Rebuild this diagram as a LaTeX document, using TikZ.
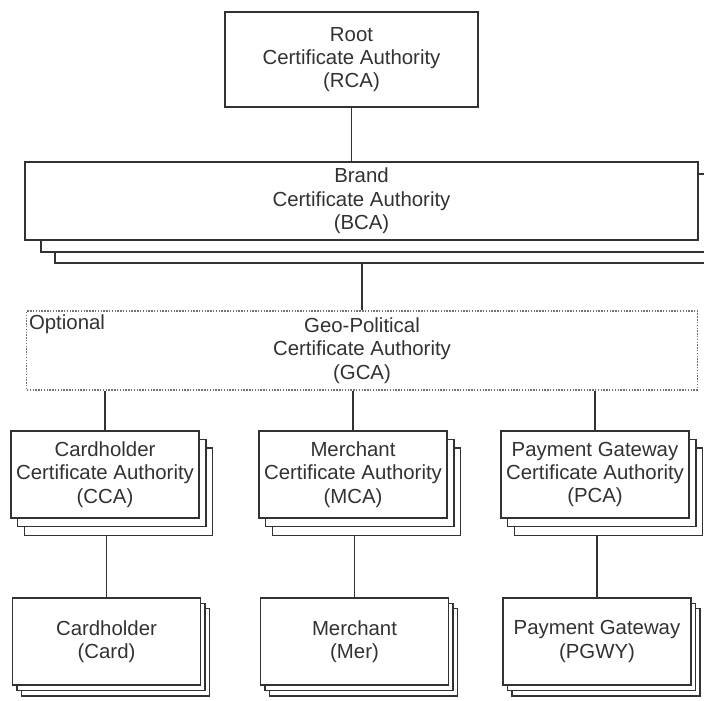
\documentclass[tikz,border=0pt]{standalone}
\usepackage{fontspec}
\setmainfont{Liberation Sans}
\usetikzlibrary{shadows, backgrounds}

\definecolor{inkgray}{RGB}{50,50,50}
\definecolor{dotgray}{RGB}{115,115,115}

\begin{document}
\begin{tikzpicture}[x=0.025cm, y=-0.025cm,
    font=\fontsize{14.5}{16.6}\selectfont,
    every node/.style={text=inkgray},
    cabox/.style={draw=inkgray, fill=white, line width=1pt, inner sep=0pt, align=center,
        minimum width=4.7cm, minimum height=2.175cm},
    smallstack/.style={
        copy shadow={shadow xshift=0.34cm, shadow yshift=-0.43cm, draw=inkgray, fill=white, line width=1pt},
        copy shadow={shadow xshift=0.17cm, shadow yshift=-0.215cm, draw=inkgray, fill=white, line width=1pt}},
    flatstack/.style={
        copy shadow={shadow xshift=0.225cm, shadow yshift=-0.27cm, draw=inkgray, fill=white, line width=1pt},
        copy shadow={shadow xshift=0.1125cm, shadow yshift=-0.135cm, draw=inkgray, fill=white, line width=1pt}},
    widestack/.style={
        copy shadow={shadow xshift=0.75cm, shadow yshift=-0.575cm, draw=inkgray, fill=white, line width=1pt},
        copy shadow={shadow xshift=0.4cm, shadow yshift=-0.3cm, draw=inkgray, fill=white, line width=1pt}},
    conn/.style={draw=inkgray, line width=1pt}
]

    % --- Page (704 x 701 px) ---
    \useasboundingbox (0,0) rectangle (704,701);
    \begin{scope}[on background layer]
        \fill[white] (0,0) rectangle (704,701);
    \end{scope}

    % --- Root and brand ---
    \node[cabox, minimum width=6.325cm, minimum height=2.375cm] (rca) at (351.5,59.5)
        {Root\\Certificate Authority\\(RCA)};
    \node[cabox, widestack, minimum width=16.825cm, minimum height=1.95cm] (bca) at (361.5,201)
        {Brand\\Certificate Authority\\(BCA)};

    % --- Optional geo-political level ---
    \node[cabox, draw=dotgray, densely dotted, line width=0.8pt,
        minimum width=16.75cm, minimum height=1.975cm] (gca) at (362,350.5)
        {Geo-Political\\Certificate Authority\\(GCA)};
    \node[anchor=north west, inner sep=0pt] (optlbl) at ([xshift=0.06cm, yshift=-0.11cm]gca.north west) {Optional};

    % --- Certificate authorities ---
    \node[cabox, smallstack] (cca) at (105,474.5) {Cardholder\\Certificate Authority\\(CCA)};
    \node[cabox, smallstack] (mca) at (353,474.5) {Merchant\\Certificate Authority\\(MCA)};
    \node[cabox, smallstack] (pca) at (595,474.5) {Payment Gateway\\Certificate Authority\\(PCA)};

    % --- End entities ---
    \node[cabox, flatstack] (card) at (106.5,641.5) {Cardholder\\(Card)};
    \node[cabox, flatstack] (mer)  at (354.5,641.5) {Merchant\\(Mer)};
    \node[cabox, flatstack] (pgwy) at (597,641.5)   {Payment Gateway\\(PGWY)};

    % --- Connectors (behind the stacks) ---
    \begin{scope}[on background layer]
        \draw[conn] (rca.south) -- (rca.south |- bca.north);
        \draw[conn] (gca.north) -- (gca.north |- bca.south);
        \foreach \ca in {cca, mca, pca}
            \draw[conn] (\ca.north) -- (\ca.north |- gca.south);
        \foreach \ca/\ee in {cca/card, mca/mer, pca/pgwy}
            \draw[conn] (\ee.north) -- (\ee.north |- \ca.south);
    \end{scope}

\end{tikzpicture}
\end{document}
